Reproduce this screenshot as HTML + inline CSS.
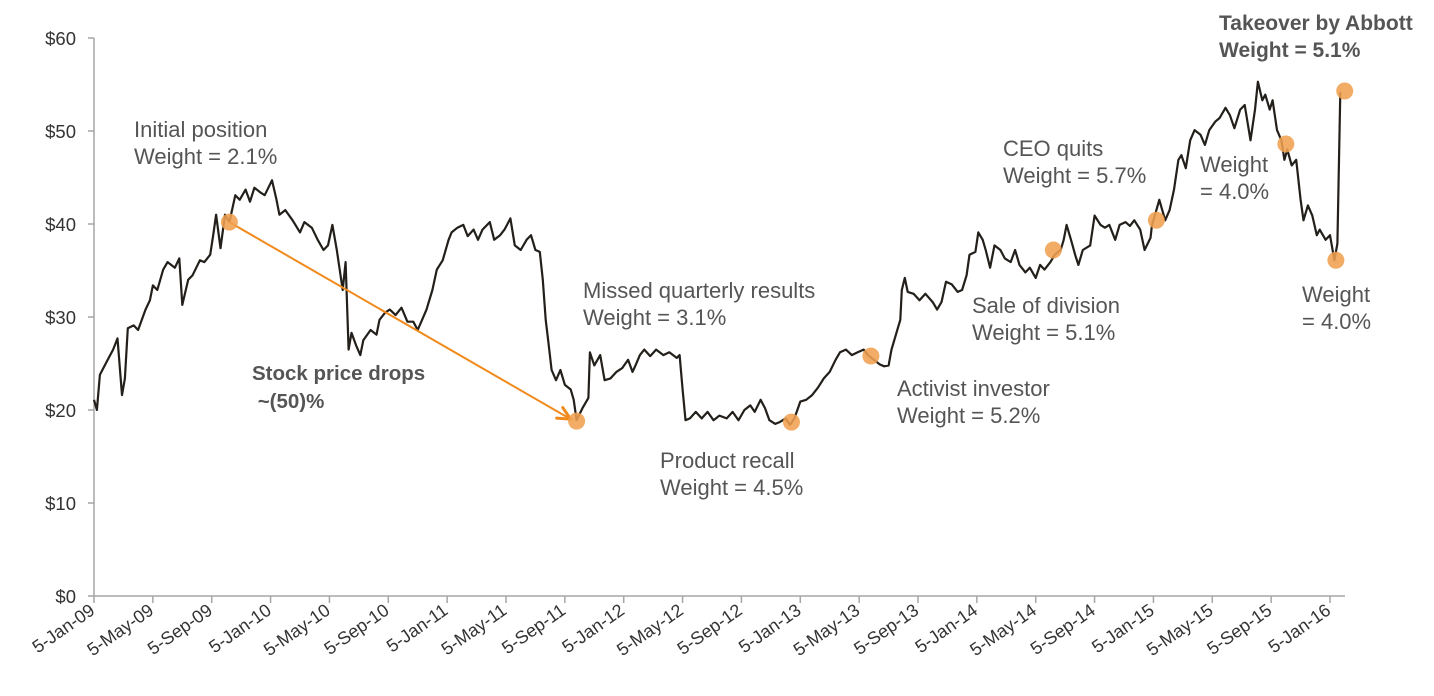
<!DOCTYPE html>
<html><head><meta charset="utf-8"><style>
html,body{margin:0;padding:0;background:#fff;}
svg{display:block;font-family:"Liberation Sans",sans-serif;}
.ann{font-size:22px;fill:#555;}
.tick{font-size:18.5px;fill:#333;}
.xt{font-size:18px;fill:#333;}
</style></head><body>
<svg id="chart" width="1434" height="696">
<g id="axes"></g>
<g id="series"></g>
<g id="marks"></g>
<g id="labels">
<text class="ann" x="134" y="137">Initial position</text>
<text class="ann" x="134" y="164">Weight = 2.1%</text>
<text class="ann" x="252" y="380" style="font-weight:bold;font-size:20.5px">Stock price drops</text>
<text class="ann" x="252" y="408" style="font-weight:bold;font-size:20.5px" xml:space="preserve"> ~(50)%</text>
<text class="ann" x="583" y="298">Missed quarterly results</text>
<text class="ann" x="583" y="325">Weight = 3.1%</text>
<text class="ann" x="660" y="468">Product recall</text>
<text class="ann" x="660" y="495">Weight = 4.5%</text>
<text class="ann" x="897" y="396">Activist investor</text>
<text class="ann" x="897" y="423">Weight = 5.2%</text>
<text class="ann" x="972" y="313">Sale of division</text>
<text class="ann" x="972" y="340">Weight = 5.1%</text>
<text class="ann" x="1003" y="156">CEO quits</text>
<text class="ann" x="1003" y="183">Weight = 5.7%</text>
<text class="ann" x="1200" y="172">Weight</text>
<text class="ann" x="1200" y="199">= 4.0%</text>
<text class="ann" x="1302" y="302">Weight</text>
<text class="ann" x="1302" y="329">= 4.0%</text>
<text class="ann" x="1219" y="30" style="font-weight:bold;font-size:21px">Takeover by Abbott</text>
<text class="ann" x="1219" y="57" style="font-weight:bold;font-size:21px">Weight = 5.1%</text>
</g>
</svg>
<script>
const yTicks=[0,10,20,30,40,50,60];
const xTickLabels=["5-Jan-09","5-May-09","5-Sep-09","5-Jan-10","5-May-10","5-Sep-10","5-Jan-11","5-May-11","5-Sep-11","5-Jan-12","5-May-12","5-Sep-12","5-Jan-13","5-May-13","5-Sep-13","5-Jan-14","5-May-14","5-Sep-14","5-Jan-15","5-May-15","5-Sep-15","5-Jan-16"];
const months=[0,0.2,0.4,1.0,1.3,1.6,1.9,2.1,2.3,2.7,3.0,3.5,3.8,4.0,4.3,4.7,5.0,5.5,5.8,6.0,6.4,6.7,7.2,7.5,7.9,8.1,8.3,8.6,8.9,9.2,9.6,9.9,10.3,10.6,10.9,11.3,11.6,12.1,12.4,12.6,13.0,13.5,14.0,14.3,14.8,15.2,15.6,15.9,16.2,16.5,16.7,16.9,17.1,17.3,17.5,17.8,18.1,18.3,18.8,19.2,19.4,19.8,20.1,20.5,20.9,21.3,21.7,22.0,22.3,22.6,23.0,23.3,23.7,24.1,24.3,24.7,25.1,25.4,25.8,26.1,26.4,26.9,27.2,27.6,27.9,28.3,28.6,29.0,29.4,29.7,30.0,30.3,30.5,30.7,30.9,31.1,31.4,31.7,32.0,32.4,32.6,32.8,33.2,33.6,33.7,34.0,34.4,34.7,35.1,35.5,35.9,36.3,36.6,36.8,37.1,37.4,37.8,38.2,38.7,39.1,39.6,39.8,40.0,40.2,40.5,40.9,41.3,41.7,42.1,42.5,43.0,43.4,43.8,44.2,44.6,44.9,45.3,45.6,45.9,46.3,46.6,47.0,47.3,47.6,48.0,48.4,48.8,49.2,49.6,50.0,50.4,50.7,51.1,51.5,51.9,52.3,52.6,53.0,53.4,53.7,54.0,54.2,54.5,54.8,54.9,55.1,55.3,55.7,56.1,56.5,57.0,57.3,57.6,57.9,58.3,58.7,59.0,59.3,59.5,59.9,60.1,60.4,60.6,60.9,61.2,61.6,61.9,62.3,62.6,62.9,63.3,63.6,64.0,64.3,64.6,65.0,65.3,65.7,65.9,66.1,66.4,66.7,66.9,67.2,67.7,68.0,68.4,68.7,69.0,69.4,69.7,70.1,70.4,70.7,71.1,71.4,71.8,71.9,72.2,72.4,72.8,73.1,73.4,73.7,73.9,74.2,74.5,74.8,75.2,75.5,75.8,76.2,76.5,76.9,77.2,77.5,77.9,78.2,78.6,78.9,79.1,79.4,79.6,79.9,80.1,80.4,80.7,80.9,81.1,81.4,81.7,82.0,82.2,82.5,82.8,83.1,83.3,83.7,84.0,84.3,84.5,84.7];
const prices=[21.1,20.0,23.8,25.6,26.5,27.7,21.6,23.4,28.8,29.1,28.6,30.8,31.8,33.4,32.9,35.1,35.9,35.3,36.3,31.3,34.0,34.5,36.1,35.9,36.7,38.8,41.0,37.4,41.0,40.2,43.1,42.6,43.7,42.4,43.9,43.4,43.1,44.7,42.6,41.0,41.5,40.4,39.1,40.2,39.6,38.3,37.2,37.7,39.9,37.2,35.1,32.9,35.9,26.5,28.3,27.0,25.9,27.5,28.6,28.1,29.7,30.5,30.8,30.2,31.0,29.5,29.5,28.6,29.7,30.8,32.9,35.1,36.1,38.3,39.1,39.6,39.9,38.7,39.4,38.3,39.4,40.2,38.3,38.8,39.4,40.6,37.7,37.2,38.3,38.8,37.2,37.0,34.0,29.7,27.0,24.3,23.2,24.3,22.7,22.2,21.1,18.9,20.2,21.3,26.2,24.8,25.9,23.2,23.4,24.1,24.5,25.4,24.1,24.8,25.9,26.5,25.8,26.5,25.9,26.2,25.6,25.9,22.2,18.9,19.1,19.8,19.1,19.8,18.9,19.4,19.1,19.8,18.9,20.0,20.5,19.8,21.1,20.2,18.9,18.5,18.7,19.1,18.4,19.1,20.9,21.1,21.6,22.4,23.4,24.1,25.4,26.2,26.5,25.9,26.2,26.5,25.9,25.4,24.9,24.7,24.8,26.5,28.1,29.7,32.9,34.2,32.7,32.5,31.8,32.5,31.6,30.8,31.6,33.8,33.5,32.7,32.9,34.5,36.7,37.0,39.1,38.3,37.2,35.3,37.7,37.2,36.3,35.9,37.2,35.6,34.8,35.3,34.2,35.6,35.1,35.9,36.7,37.2,38.3,39.9,38.3,36.6,35.6,37.2,37.7,40.9,39.9,39.6,39.9,38.3,39.9,40.2,39.8,40.4,39.4,37.2,38.5,39.9,41.5,42.6,40.4,41.5,43.7,46.9,47.4,46.0,49.0,50.1,49.6,48.5,50.1,51.0,51.4,52.5,51.7,50.3,52.3,52.8,49.0,52.3,55.3,53.3,53.9,52.3,53.3,50.1,49.0,46.9,48.0,46.3,46.9,42.6,40.4,42.0,40.9,38.8,39.4,38.3,38.8,36.1,37.9,54.2];
const eventMonths=[9.2,32.8,47.4,52.8,65.2,72.2,81.0,84.4,85.0];
const eventPrices=[40.2,18.8,18.7,25.8,37.2,40.4,48.6,36.1,54.3];

const NS="http://www.w3.org/2000/svg";
const X0=94,X1=1330,Y0=596,Y1=38;
const x=m=>X0+(m/84)*(X1-X0);
const y=v=>Y0-(v/60)*(Y0-Y1);
function mk(tag,attrs,parent){const e=document.createElementNS(NS,tag);for(const k in attrs)e.setAttribute(k,attrs[k]);parent.appendChild(e);return e;}
const axes=document.getElementById('axes');
const ya=mk('line',{x1:X0,y1:Y1,x2:X0,y2:Y0,stroke:'#a6a6a6','stroke-width':1.5},axes);


const xa=mk('line',{x1:X0,y1:Y0,x2:1345,y2:Y0,stroke:'#a6a6a6','stroke-width':1.5},axes);


yTicks.forEach(v=>{
  mk('line',{x1:X0-6,y1:y(v),x2:X0,y2:y(v),stroke:'#a6a6a6','stroke-width':1.5},axes);
  const t=mk('text',{x:X0-18,y:y(v)+7,'text-anchor':'end',class:'tick'},axes);
  t.textContent='$'+v;
  
  
});
xTickLabels.forEach((s,i)=>{
  const px=x(i*4);
  mk('line',{x1:px,y1:Y0,x2:px,y2:Y0+7,stroke:'#a6a6a6','stroke-width':1.5},axes);
  const t=mk('text',{x:px+2,y:Y0+17,'text-anchor':'end',class:'xt',transform:`rotate(-35 ${px+2} ${Y0+17})`},axes);
  t.textContent=s;
  
  
});
const ser=document.getElementById('series');
const d=months.map((m,i)=>(i?'L':'M')+x(m).toFixed(1)+','+y(prices[i]).toFixed(1)).join('');
const p=mk('path',{d:d,fill:'none',stroke:'#231f1a','stroke-width':2.2,'stroke-linejoin':'round'},ser);


const marks=document.getElementById('marks');
const ax1=x(eventMonths[0]),ay1=y(eventPrices[0]),ax2=x(eventMonths[1])-6,ay2=y(eventPrices[1])-2;
const ar=mk('line',{x1:ax1,y1:ay1,x2:ax2,y2:ay2,stroke:'#f08a1c','stroke-width':2},marks);


const ang=Math.atan2(ay2-ay1,ax2-ax1);
const hl=14,hw=0.45;
const ah=mk('path',{d:`M${ax2},${ay2}L${ax2-hl*Math.cos(ang-hw)},${ay2-hl*Math.sin(ang-hw)}M${ax2},${ay2}L${ax2-hl*Math.cos(ang+hw)},${ay2-hl*Math.sin(ang+hw)}`,stroke:'#f08a1c','stroke-width':3,fill:'none','stroke-linecap':'round'},marks);


eventMonths.forEach((m,i)=>{
  const c=mk('circle',{cx:x(m),cy:y(eventPrices[i]),r:8.5,fill:'#f0a050','fill-opacity':0.88},marks);
  
  
});
</script>
</body></html>
